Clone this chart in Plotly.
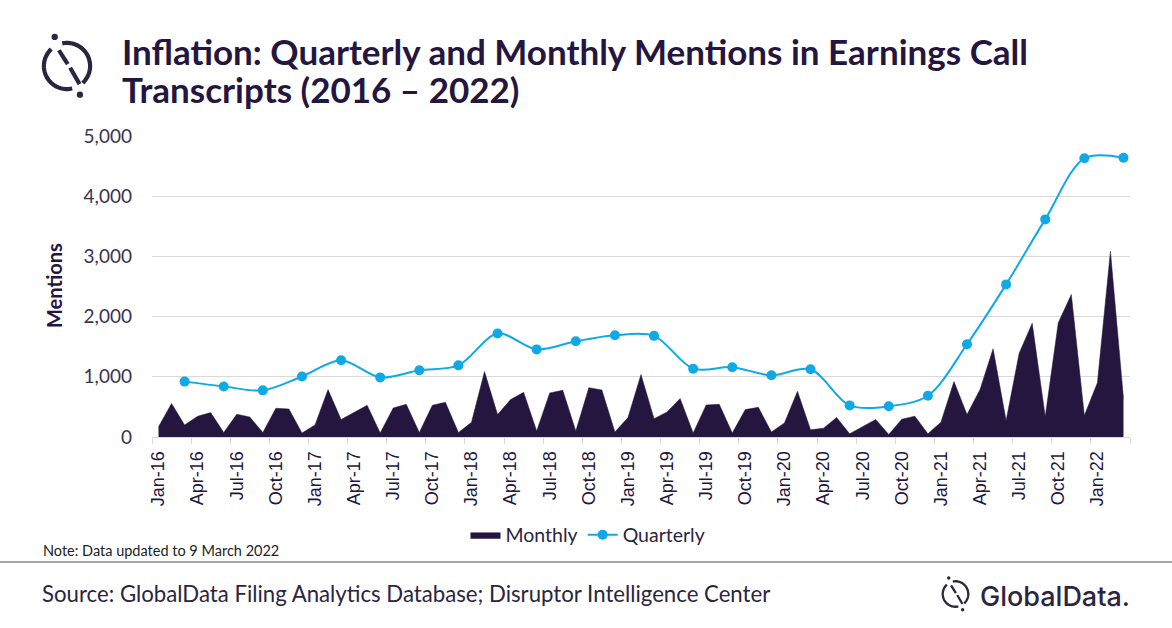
import numpy as np
import pandas as pd
import plotly.graph_objects as go

# ---------------- data ----------------
months = [d.strftime("%b-%y") for d in pd.date_range("2016-01-01", "2022-03-01", freq="MS")]
monthly = [170, 555, 200, 344, 405, 73, 377, 332, 73, 477, 465, 66,
           200, 787, 289, 405, 527, 66, 482, 543, 73, 527, 576, 73,
           244, 1086, 372, 621, 742, 100, 731, 776, 100, 820, 781, 83,
           322, 1037, 305, 415, 638, 66, 532, 543, 66, 455, 493, 83,
           233, 759, 120, 146, 324, 53, 174, 291, 42, 296, 346, 53,
           246, 922, 374, 789, 1465, 274, 1392, 1890, 340, 1897, 2367, 357,
           900, 3086, 640]
quarters = [d.strftime("%b-%y") for d in pd.date_range("2016-03-01", "2022-03-01", freq="3MS")]
quarterly = [920, 840, 775, 1005, 1275, 990, 1110, 1190, 1720, 1455, 1590, 1690,
             1680, 1135, 1160, 1025, 1125, 525, 510, 685, 1540, 2535, 3615, 4630, 4640]
tick_labels = months[::3]
y_ticks = [0, 1000, 2000, 3000, 4000, 5000]

# ---------------- styling ----------------
W, H = 1172, 628
L, R, T, B = 152, 42, 136, 191
PW, PH = W - L - R, H - T - B
DARK = "#24163f"
BLUE = "#0fa9e6"
TXT = "#2b2540"


def P(px, py):
    return (px - L) / PW, (H - B - py) / PH


def path_from_pts(pts):
    s = ""
    for i, (px, py) in enumerate(pts):
        x, y = P(px, py)
        s += ("M" if i == 0 else "L") + f"{x:.5f},{y:.5f} "
    return s


def arc_pts(cx, cy, r, a0, a1, n=48):
    a = np.radians(np.linspace(a0, a1, n))
    return list(zip(cx + r * np.cos(a), cy + r * np.sin(a)))


def icon_shapes(cx, cy, s, color=TXT):
    shapes = []
    lw = 4 * s
    r = 22 * s
    for a0, a1 in [(77, 227), (258, 407)]:
        shapes.append(dict(type="path", xref="paper", yref="paper",
                           path=path_from_pts(arc_pts(cx, cy, r, a0, a1)),
                           line=dict(color=color, width=lw)))
    segs = [((-7.7, -15.0), (0.7, -1.7)), ((3.0, 1.7), (12.0, 17.3))]
    for (x0, y0), (x1, y1) in segs:
        shapes.append(dict(type="path", xref="paper", yref="paper",
                           path=path_from_pts([(cx + x0 * s, cy + y0 * s), (cx + x1 * s, cy + y1 * s)]),
                           line=dict(color=color, width=lw)))
    for dx, dy in [(-11.7, -27.7), (12.3, 27.3)]:
        px, py = cx + dx * s, cy + dy * s
        rr = 3.0 * s
        x0, y0 = P(px - rr, py + rr)
        x1, y1 = P(px + rr, py - rr)
        shapes.append(dict(type="circle", xref="paper", yref="paper",
                           x0=x0, y0=y0, x1=x1, y1=y1,
                           fillcolor=color, line=dict(width=0)))
    return shapes


fig = go.Figure()
fig.add_trace(go.Scatter(
    x=months, y=monthly, name="Monthly", mode="lines",
    fill="tozeroy", fillcolor=DARK, line=dict(color=DARK, width=0.5),
    hoverinfo="x+y"))
fig.add_trace(go.Scatter(
    x=quarters, y=quarterly, name="Quarterly", mode="lines+markers",
    line=dict(color=BLUE, width=2, shape="spline", smoothing=0.9),
    marker=dict(color=BLUE, size=10)))
# invisible helper trace so the boundary tick axis is drawn
fig.add_trace(go.Scatter(x=[], y=[], xaxis="x2", showlegend=False))

shapes = []
# separator line
x0, y0 = P(0, 562)
x1, _ = P(W, 562)
shapes.append(dict(type="line", xref="paper", yref="paper", x0=x0, x1=x1, y0=y0, y1=y0,
                   line=dict(color="#a6a6a6", width=2)))
shapes += icon_shapes(67, 66, 1.05)
shapes += icon_shapes(955.5, 594, 0.58)

annotations = []


def ann(text, px, py, size, family="Lato", color=TXT, xanchor="left", yanchor="middle", angle=0, weight=None):
    x, y = P(px, py)
    f = dict(size=size, family=family, color=color)
    if weight:
        f["weight"] = weight
    annotations.append(dict(text=text, x=x, y=y, xref="paper", yref="paper", showarrow=False,
                            xanchor=xanchor, yanchor=yanchor, textangle=angle, font=f, align="left"))


ann("<b>Inflation: Quarterly and Monthly Mentions in Earnings Call</b>", 120, 51, 35, color=DARK)
ann("<b>Transcripts (2016 \u2013 2022)</b>", 120, 89, 35, color=DARK)
ann("<b>Mentions</b>", 54, 286, 20, color=DARK, xanchor="center", angle=-90)
ann("Note: Data updated to 9 March 2022", 41, 550, 14.5, color="#222222")
ann("Source: GlobalData Filing Analytics Database; Disruptor Intelligence Center", 40, 593, 22.2, color=TXT)
ann("GlobalData.", 978, 596, 27, family="Inter", color=TXT, weight=500)

lx, ly = P(588, 535)
fig.update_layout(
    width=W, height=H,
    margin=dict(l=L, r=R, t=T, b=B),
    paper_bgcolor="white", plot_bgcolor="white",
    showlegend=True,
    legend=dict(orientation="h", x=lx, y=ly, xanchor="center", yanchor="middle",
                font=dict(size=19.5, family="Lato", color=TXT),
                itemwidth=30, tracegroupgap=0),
    xaxis=dict(type="category", categoryorder="array", categoryarray=months,
               range=[-0.5, len(months) - 0.5],
               tickmode="array", tickvals=tick_labels, ticktext=tick_labels,
               tickangle=-90, ticks="", showgrid=False,
               showline=True, linecolor="#d9d9d9", linewidth=1,
               tickfont=dict(family="Liberation Sans, Arial", size=18, color=DARK),
               ticklabelstandoff=6, zeroline=False, fixedrange=True),
    xaxis2=dict(overlaying="x", anchor="y", range=[-0.5, len(months) - 0.5],
                tickmode="array", tickvals=[i - 0.5 for i in range(0, len(months) + 1, 3)],
                ticks="outside", ticklen=6, tickcolor="#d9d9d9", showticklabels=False,
                showgrid=False, showline=False, zeroline=False, side="bottom"),
    yaxis=dict(range=[0, 5000], tickmode="array", tickvals=y_ticks,
               tickformat=",d", showgrid=True, gridcolor="#d9d9d9", gridwidth=1,
               zeroline=False, ticks="", ticklabelstandoff=19,
               tickfont=dict(family="Lato", size=19, color="#3a3350")),
    shapes=shapes, annotations=annotations,
)

fig.write_html("out.html", config={"displayModeBar": False},
               post_script="document.body.style.margin='0';")
